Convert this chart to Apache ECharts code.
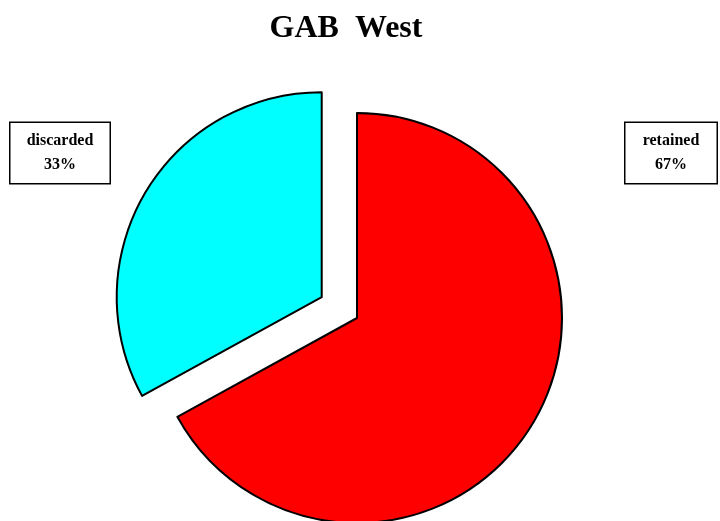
<!DOCTYPE html>
<html>
<head>
<meta charset="utf-8">
<script src="https://cdn.jsdelivr.net/npm/echarts@6/dist/echarts.min.js"></script>
<style>
  html, body { margin: 0; padding: 0; background: #fff; }
  #container { width: 720px; height: 521px; }
</style>
</head>
<body>
<div id="container"></div>
<script>
var names = ["retained", "discarded"];
var values = [67, 33];
var colors = ["#ff0000", "#00ffff"];
var exploded = [false, true];

var dom = document.getElementById("container");
var myChart = echarts.init(dom);

var pieCenter = [357, 318];
var explodeDist = 41;

// label boxes sit in the top corners, away from the pie
var labelSpots = [
  { x: 671, y: 153, width: 75 },
  { x: 60, y: 153, width: 83 }
];

var total = values.reduce(function (a, b) { return a + b; }, 0);

// one pie series per slice, so an exploded slice can have its own centre
// while its label stays where labelLayout puts it
var series = [];
var acc = 0;
for (var i = 0; i < names.length; i++) {
  var mid = 90 - ((acc + values[i] / 2) / total) * 360;
  acc += values[i];
  var rad = (mid * Math.PI) / 180;
  var off = exploded[i] ? explodeDist : 0;
  var c = [pieCenter[0] + Math.cos(rad) * off, pieCenter[1] - Math.sin(rad) * off];

  var data = [];
  for (var j = 0; j < names.length; j++) {
    if (j === i) {
      data.push({
        name: names[j],
        value: values[j],
        itemStyle: { color: colors[j], borderColor: "#000", borderWidth: 2 },
        label: { show: true, width: labelSpots[j].width }
      });
    } else {
      data.push({
        name: names[j],
        value: values[j],
        itemStyle: { color: "rgba(0,0,0,0)", borderWidth: 0 },
        label: { show: false }
      });
    }
  }

  series.push({
    type: "pie",
    center: c,
    radius: 205,
    startAngle: 90,
    clockwise: true,
    avoidLabelOverlap: false,
    silent: true,
    data: data,
    labelLine: { show: false },
    label: {
      position: "outside",
      formatter: "{b}\n{d}%",
      fontFamily: "Liberation Serif",
      fontWeight: "bold",
      fontSize: 16,
      lineHeight: 24,
      color: "#000",
      align: "center",
      backgroundColor: "#fff",
      borderColor: "#000",
      borderWidth: 1.5,
      padding: [6, 8]
    },
    labelLayout: function (params) {
      var s = labelSpots[params.dataIndex];
      return { x: s.x, y: s.y, align: "center", verticalAlign: "middle" };
    }
  });
}

var option = {
  animation: false,
  title: {
    text: "GAB  West",
    left: 341,
    textAlign: "center",
    top: 8,
    textStyle: {
      fontFamily: "Liberation Serif",
      fontWeight: "bold",
      fontSize: 32,
      color: "#000"
    }
  },
  series: series
};

myChart.setOption(option);
</script>
</body>
</html>
